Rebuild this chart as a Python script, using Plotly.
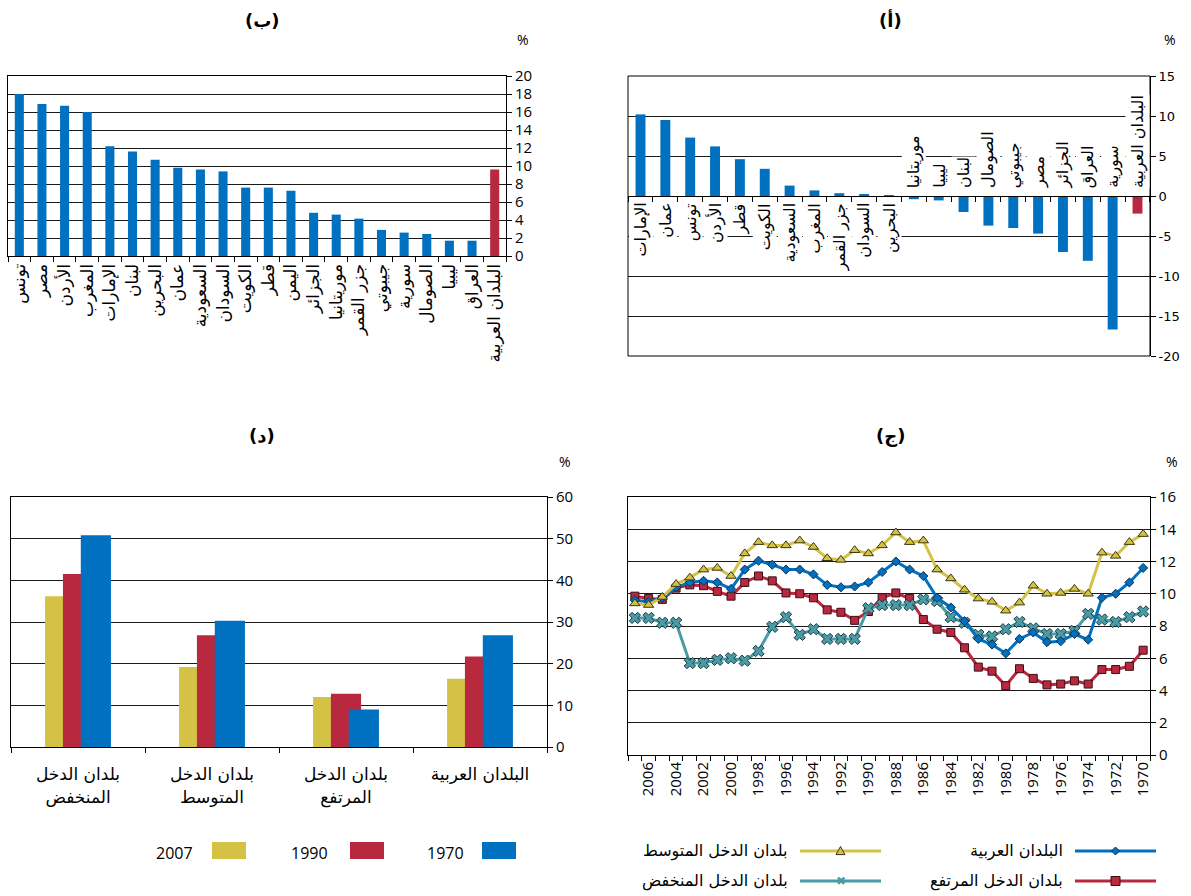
import plotly.graph_objects as go

W, H = 1191, 896


def fx(px):
    return px / W


def fy(py):
    return 1 - py / H


BLUE = '#0070C0'
RED = '#B8293F'
YELLOW = '#D4C246'
TEAL = '#4A9BA5'
GRID = '#1a1a1a'
AR_FONT = 'DejaVu Sans'
NUM_FONT = 'Open Sans, DejaVu Sans'
VER_FONT = 'DejaVu Sans'

# ---------------- (أ) change in percentage points ----------------
a_countries = ['الإمارات', 'عمان', 'تونس', 'الأردن', 'قطر', 'الكويت', 'السعودية', 'المغرب',
               'جزر القمر', 'السودان', 'البحرين', 'موريتانيا', 'ليبيا', 'لبنان', 'الصومال',
               'جيبوتي', 'مصر', 'الجزائر', 'العراق', 'سورية', 'البلدان العربية']
a_values = [10.2, 9.5, 7.3, 6.2, 4.6, 3.4, 1.3, 0.7, 0.35, 0.2, 0.05, -0.4, -0.55, -2.0,
            -3.7, -4.0, -4.7, -7.0, -8.1, -16.7, -2.2]
a_ticks = [-20, -15, -10, -5, 0, 5, 10, 15]

# ---------------- (ب) ----------------
b_countries = ['تونس', 'مصر', 'الأردن', 'المغرب', 'الإمارات', 'لبنان', 'البحرين', 'عمان',
               'السعودية', 'السودان', 'الكويت', 'قطر', 'اليمن', 'الجزائر', 'موريتانيا',
               'جزر القمر', 'جيبوتي', 'سورية', 'الصومال', 'ليبيا', 'العراق', 'البلدان العربية']
b_values = [18.0, 16.9, 16.7, 16.0, 12.2, 11.6, 10.7, 9.8, 9.6, 9.4, 7.6, 7.6, 7.25, 4.8,
            4.6, 4.15, 2.9, 2.6, 2.45, 1.7, 1.7, 9.6]

# ---------------- (ج) time series ----------------
years = [2007, 2006, 2005, 2004, 2003, 2002, 2001, 2000, 1999, 1998, 1997, 1996, 1995,
         1994, 1993, 1992, 1991, 1990, 1989, 1988, 1987, 1986, 1985, 1984, 1983, 1982,
         1981, 1980, 1979, 1978, 1977, 1976, 1975, 1974, 1973, 1972, 1971, 1970]
c_arab = [9.6, 9.5, 9.75, 10.4, 10.7, 10.8, 10.7, 10.3, 11.5, 12.05, 11.8, 11.5, 11.5, 11.2,
          10.55, 10.4, 10.45, 10.7, 11.35, 12.0, 11.5, 11.1, 9.75, 9.15, 8.3, 7.2, 6.85, 6.3,
          7.2, 7.6, 7.0, 7.05, 7.5, 7.15, 9.75, 10.0, 10.7, 11.6]
c_high = [9.85, 9.7, 9.65, 10.35, 10.55, 10.5, 10.15, 9.85, 10.7, 11.1, 10.8, 10.05, 10.0,
          9.75, 9.0, 8.85, 8.35, 8.9, 9.75, 10.05, 9.7, 8.4, 7.8, 7.6, 6.65, 5.45, 5.2, 4.3,
          5.35, 4.75, 4.35, 4.4, 4.6, 4.4, 5.3, 5.3, 5.5, 6.5]
c_mid = [9.4, 9.3, 9.8, 10.6, 11.0, 11.5, 11.6, 11.1, 12.5, 13.2, 13.0, 13.0, 13.3, 12.9,
         12.2, 12.1, 12.7, 12.5, 13.0, 13.8, 13.2, 13.3, 11.5, 10.95, 10.25, 9.7, 9.5, 8.95,
         9.45, 10.5, 10.0, 10.05, 10.3, 10.0, 12.55, 12.35, 13.2, 13.7]
c_low = [8.5, 8.5, 8.2, 8.2, 5.7, 5.7, 5.9, 6.0, 5.85, 6.45, 7.95, 8.55, 7.45, 7.8, 7.2, 7.2,
         7.2, 9.1, 9.3, 9.3, 9.3, 9.65, 9.55, 8.55, 8.2, 7.45, 7.35, 7.8, 8.25, 7.85, 7.5,
         7.5, 7.7, 8.75, 8.4, 8.25, 8.55, 8.9]
c_names = ['البلدان العربية', 'بلدان الدخل المرتفع', 'بلدان الدخل المتوسط', 'بلدان الدخل المنخفض']
c_label_years = years[1::2]

# ---------------- (د) grouped bars ----------------
d_groups = ['بلدان الدخل<br>المنخفض', 'بلدان الدخل<br>المتوسط', 'بلدان الدخل<br>المرتفع',
            'البلدان العربية']
d_2007 = [36.2, 19.2, 12.0, 16.4]
d_1990 = [41.5, 26.8, 12.8, 21.7]
d_1970 = [50.8, 30.3, 9.0, 26.8]
d_series = ['2007', '1990', '1970']

fig = go.Figure()

# (أ)
fig.add_trace(go.Bar(x=a_countries, y=a_values, xaxis='x', yaxis='y',
                     marker=dict(color=[RED if c == 'البلدان العربية' else BLUE for c in a_countries],
                                 line=dict(width=0)),
                     showlegend=False))
# (ب)
fig.add_trace(go.Bar(x=b_countries, y=b_values, xaxis='x2', yaxis='y2',
                     marker=dict(color=[RED if c == 'البلدان العربية' else BLUE for c in b_countries],
                                 line=dict(width=0)),
                     showlegend=False))
# (ج)
fig.add_trace(go.Scatter(x=years, y=c_high, xaxis='x3', yaxis='y3', mode='lines+markers',
                         name=c_names[1], line=dict(color=RED, width=3),
                         marker=dict(symbol='square', size=8, color=RED,
                                     line=dict(color='#3a0e16', width=1)), showlegend=False))
fig.add_trace(go.Scatter(x=years, y=c_low, xaxis='x3', yaxis='y3', mode='lines+markers',
                         name=c_names[3], line=dict(color=TEAL, width=3),
                         marker=dict(symbol='x', size=10, color=TEAL,
                                     line=dict(color='#1d3c42', width=1)), showlegend=False))
fig.add_trace(go.Scatter(x=years, y=c_arab, xaxis='x3', yaxis='y3', mode='lines+markers',
                         name=c_names[0], line=dict(color=BLUE, width=3),
                         marker=dict(symbol='diamond', size=7, color=BLUE,
                                     line=dict(color='#10304f', width=1)), showlegend=False))
fig.add_trace(go.Scatter(x=years, y=c_mid, xaxis='x3', yaxis='y3', mode='lines+markers',
                         name=c_names[2], line=dict(color=YELLOW, width=3),
                         marker=dict(symbol='triangle-up', size=9, color=YELLOW,
                                     line=dict(color='#3b3510', width=1)), showlegend=False))
# (د)
for name, vals, col in zip(d_series, [d_2007, d_1990, d_1970], [YELLOW, RED, BLUE]):
    fig.add_trace(go.Bar(x=d_groups, y=vals, name=name, xaxis='x4', yaxis='y4', width=0.225,
                         marker=dict(color=col, line=dict(width=0)), showlegend=False))

# ---------- domains ----------
A_x = [fx(628), fx(1150)]
A_y = [fy(356), fy(76)]
B_x = [fx(8), fx(506)]
B_y = [fy(256), fy(76)]
C_x = [fx(628), fx(1150)]
C_y = [fy(755), fy(497)]
D_x = [fx(11), fx(547)]
D_y = [fy(747), fy(497)]

a_range = [min(a_ticks), max(a_ticks)]
a_zero_pos = A_y[0] + (A_y[1] - A_y[0]) * (0 - a_range[0]) / (a_range[1] - a_range[0])

axis_common = dict(linecolor='black', linewidth=1, tickcolor='black', ticklen=5, tickwidth=1,
                   automargin=False)

fig.update_layout(
    template='none',
    width=W, height=H, margin=dict(l=0, r=0, t=0, b=0, autoexpand=False),
    paper_bgcolor='white', plot_bgcolor='white', barmode='group',
    bargap=0.6, showlegend=False,
    font=dict(family=NUM_FONT, color='black'),
    xaxis=dict(domain=A_x, anchor='free', position=a_zero_pos, type='category',
               showticklabels=False, ticks='outside', tickson='boundaries', showline=True,
               showgrid=False, zeroline=False, **axis_common),
    yaxis=dict(domain=A_y, anchor='x', side='right', range=a_range, tickmode='array',
               tickvals=a_ticks, ticktext=[str(t) for t in a_ticks], ticks='outside',
               showline=True, showgrid=True, gridcolor=GRID, gridwidth=1, zeroline=False,
               tickfont=dict(family=VER_FONT, size=13, color='black'), **axis_common),
    xaxis2=dict(domain=B_x, anchor='y2', type='category', tickangle=-90, ticks='outside',
                tickson='boundaries', showline=True, mirror=True, showgrid=False,
                tickfont=dict(family=AR_FONT, size=17, color='black'), **axis_common),
    yaxis2=dict(domain=B_y, anchor='x2', side='right', range=[0, 20], dtick=2,
                ticks='outside', showline=True, mirror=True, showgrid=True, gridcolor=GRID,
                zeroline=False, tickfont=dict(family=NUM_FONT, size=15, color='black'),
                **axis_common),
    xaxis3=dict(domain=C_x, anchor='y3', range=[years[0] + 0.5, years[-1] - 0.5],
                tickmode='array', tickvals=c_label_years,
                ticktext=[str(y) for y in c_label_years], tickangle=-90, ticks='',
                showline=True, mirror=True, showgrid=False, zeroline=False,
                tickfont=dict(family=NUM_FONT, size=15, color='black'),
                minor=dict(tickmode='linear', tick0=0.5, dtick=1, ticks='outside',
                           ticklen=5, tickcolor='black', showgrid=False),
                linecolor='black', linewidth=1, automargin=False),
    yaxis3=dict(domain=C_y, anchor='x3', side='right', range=[0, 16], dtick=2,
                ticks='outside', showline=True, mirror=True, showgrid=True, gridcolor=GRID,
                zeroline=False, tickfont=dict(family=NUM_FONT, size=15, color='black'),
                **axis_common),
    xaxis4=dict(domain=D_x, anchor='y4', type='category', ticks='outside',
                tickson='boundaries', showline=True, mirror=True, showgrid=False,
                ticklabelstandoff=12,
                tickfont=dict(family=AR_FONT, size=17, color='black'), **axis_common),
    yaxis4=dict(domain=D_y, anchor='x4', side='right', range=[0, 60], dtick=10,
                ticks='outside', showline=True, mirror=True, showgrid=True, gridcolor=GRID,
                zeroline=False, tickfont=dict(family=NUM_FONT, size=15, color='black'),
                **axis_common),
)

shapes = []
# frame for (أ)
shapes.append(dict(type='rect', xref='x domain', yref='y domain', x0=0, x1=1, y0=0, y1=1,
                   line=dict(color='black', width=1), layer='above'))

annotations = []
# labels inside (أ)
for c, v in zip(a_countries, a_values):
    pos = v > 0
    annotations.append(dict(x=c, y=0, xref='x', yref='y', text=c, textangle=-90,
                            showarrow=False, yanchor='top' if pos else 'bottom',
                            yshift=-6 if pos else 7, bgcolor='white', borderpad=0, height=23,
                            font=dict(family=AR_FONT, size=16, color='black')))

# titles and percent labels
for txt, x, y in [('(أ)', 890, 20), ('(ب)', 262, 20), ('(ج)', 890, 436), ('(د)', 262, 436)]:
    annotations.append(dict(x=fx(x), y=fy(y), xref='paper', yref='paper',
                            text='<b>' + txt + '</b>', xanchor='center', yanchor='middle',
                            showarrow=False, font=dict(family=AR_FONT, size=18, color='black')))
for x, y in [(1170, 40), (523, 40), (1172, 461), (565, 461)]:
    annotations.append(dict(x=fx(x), y=fy(y), xref='paper', yref='paper', text='%',
                            xanchor='center', yanchor='middle', showarrow=False,
                            font=dict(family=NUM_FONT, size=14, color='black')))

# legend for (ج): lines on the right of text
c_leg = [  # (name, color, line x0, x1, y, marker)
    (c_names[0], BLUE, 1075, 1156, 851, 'diamond'),
    (c_names[1], RED, 1075, 1156, 881, 'square'),
    (c_names[2], YELLOW, 800, 881, 851, 'triangle'),
    (c_names[3], TEAL, 800, 881, 881, 'x'),
]
for name, col, x0, x1, y, mk in c_leg:
    shapes.append(dict(type='line', xref='paper', yref='paper', x0=fx(x0), x1=fx(x1),
                       y0=fy(y), y1=fy(y), line=dict(color=col, width=3)))
    cx = (x0 + x1) / 2
    if mk == 'diamond':
        s = 4
        path = 'M {} {} L {} {} L {} {} L {} {} Z'.format(fx(cx - s), fy(y), fx(cx), fy(y - s),
                                                         fx(cx + s), fy(y), fx(cx), fy(y + s))
        shapes.append(dict(type='path', xref='paper', yref='paper', path=path, fillcolor=col,
                           line=dict(color='#10304f', width=1)))
    elif mk == 'square':
        s = 4.5
        shapes.append(dict(type='rect', xref='paper', yref='paper', x0=fx(cx - s), x1=fx(cx + s),
                           y0=fy(y + s), y1=fy(y - s), fillcolor=col,
                           line=dict(color='#3a0e16', width=1)))
    elif mk == 'triangle':
        s = 4.5
        path = 'M {} {} L {} {} L {} {} Z'.format(fx(cx - s), fy(y + s * 0.8), fx(cx), fy(y - s),
                                                fx(cx + s), fy(y + s * 0.8))
        shapes.append(dict(type='path', xref='paper', yref='paper', path=path, fillcolor=col,
                           line=dict(color='#3b3510', width=1)))
    else:
        annotations.append(dict(x=fx(cx), y=fy(y), xref='paper', yref='paper', text='✖',
                                xanchor='center', yanchor='middle', showarrow=False,
                                font=dict(family='DejaVu Sans', size=12, color=col)))
    annotations.append(dict(x=fx(x0 - 10), y=fy(y), xref='paper', yref='paper', text=name,
                            xanchor='right', yanchor='middle', showarrow=False,
                            font=dict(family=AR_FONT, size=16, color='black')))

# legend for (د): swatch to the right of the label
d_leg = [('1970', BLUE, 482, 516, 446), ('1990', RED, 350, 384, 309), ('2007', YELLOW, 212, 246, 174)]
for name, col, x0, x1, tx in d_leg:
    shapes.append(dict(type='rect', xref='paper', yref='paper', x0=fx(x0), x1=fx(x1),
                       y0=fy(859), y1=fy(842), fillcolor=col, line=dict(width=0)))
    annotations.append(dict(x=fx(tx), y=fy(853), xref='paper', yref='paper', text=name,
                            xanchor='center', yanchor='middle', showarrow=False,
                            font=dict(family=NUM_FONT, size=16, color='black')))

fig.update_layout(shapes=shapes, annotations=annotations)
fig.write_html('out.html', config={'displayModeBar': False},
               post_script="document.body.style.margin='0';document.body.style.overflow='hidden';")
